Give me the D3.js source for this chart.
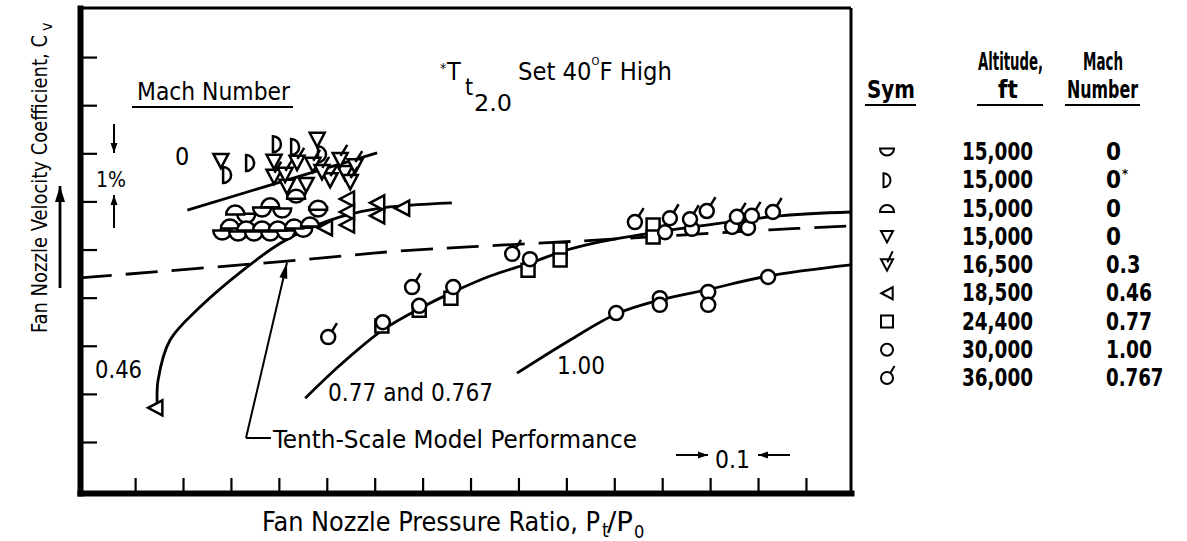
<!DOCTYPE html>
<html>
<head>
<meta charset="utf-8">
<script src="https://cdn.jsdelivr.net/npm/d3@7"></script>
<style>
  body { margin: 0; background: #fff; }
  text { font-family: "Liberation Sans Narrow", "DejaVu Sans Condensed", "Roboto Condensed", sans-serif; fill: #000; }
  .legend text { font-weight: bold; }
</style>
</head>
<body>
<svg id="chart" width="1187" height="541"></svg>
<script>
// ---- axis ticks (pressure ratio every 0.1, velocity coefficient every 1%) ----
const xTicks = [1.2, 1.3, 1.4, 1.5, 1.6, 1.7, 1.8, 1.9, 2.0, 2.1, 2.2, 2.3, 2.4, 2.5, 2.6];
const yTicks = [0.90, 0.91, 0.92, 0.93, 0.94, 0.95, 0.96, 0.97, 0.98];

// ---- legend table ----
const legendSymbols   = ["halfDown", "halfRight", "halfUp", "triDown", "triDownFlag", "triLeft", "square", "circle", "circleFlag"];
const legendAltitudes = ["15,000", "15,000", "15,000", "15,000", "16,500", "18,500", "24,400", "30,000", "36,000"];
const legendMach      = ["0", "0*", "0", "0", "0.3", "0.46", "0.77", "1.00", "0.767"];

// ---- measured points [pressure ratio, Cv] ----
const alt15kHalfDown = [[1.382,0.9430],[1.415,0.9428],[1.448,0.9428],[1.482,0.9428],[1.515,0.9430],[1.551,0.9436],
                        [1.465,0.9478],[1.507,0.9476],[1.536,0.9507],[1.582,0.9478],[1.432,0.9465]];
const alt15kHalfRight = [[1.392,0.9555],[1.440,0.9580],[1.496,0.9619],[1.534,0.9613],[1.590,0.9598]];
const alt15kHalfUp   = [[1.409,0.9482],[1.398,0.9453],[1.432,0.9449],[1.465,0.9449],[1.498,0.9449],[1.532,0.9453],
                        [1.565,0.9457],[1.536,0.9515],[1.482,0.9497],[1.582,0.9492]];
const alt15kTriDown  = [[1.379,0.9584],[1.580,0.9628],[1.490,0.9582],[1.517,0.9530],[1.557,0.9534],[1.638,0.9559]];
const mach03         = [[1.490,0.9551],[1.538,0.9580],[1.571,0.9576],[1.628,0.9586],[1.659,0.9573],[1.607,0.9544],
                        [1.513,0.9555],[1.590,0.9561],[1.649,0.9540]];
const mach046        = [[1.242,0.9071],[1.642,0.9505],[1.642,0.9478],[1.642,0.9451],[1.596,0.9445],[1.705,0.9497],
                        [1.705,0.9470],[1.757,0.9486]];
const mach077        = [[1.715,0.9241],[1.793,0.9274],[1.859,0.9299],[2.020,0.9357],[2.087,0.9401],[2.087,0.9378],
                        [2.281,0.9451],[2.281,0.9426]];
const mach100        = [[2.204,0.9268],[2.295,0.9299],[2.295,0.9285],[2.396,0.9312],[2.396,0.9285],[2.521,0.9343],
                        [1.717,0.9249],[1.793,0.9283],[1.864,0.9322],[2.024,0.9380],[2.306,0.9436],[2.362,0.9443],
                        [2.446,0.9447],[2.479,0.9445]];
const mach0767       = [[1.603,0.9218],[1.778,0.9322],[1.987,0.9391],[2.243,0.9457],[2.316,0.9465],[2.358,0.9463],
                        [2.393,0.9480],[2.456,0.9468],[2.487,0.9470],[2.531,0.9478]];

// ---- faired curves ----
const curveMach0   = [[1.309,0.9482],[1.705,0.9601]];
const curveMach046 = [[1.246,0.9081],[1.248,0.9129],[1.273,0.9212],[1.336,0.9281],[1.434,0.9364],[1.503,0.9413],
                      [1.565,0.9445],[1.628,0.9468],[1.711,0.9486],[1.861,0.9497]];
const curveMach077 = [[1.555,0.9091],[1.628,0.9160],[1.717,0.9233],[1.795,0.9278],[1.864,0.9312],[1.941,0.9345],
                      [2.024,0.9372],[2.101,0.9399],[2.170,0.9416],[2.275,0.9434],[2.379,0.9449],[2.546,0.9470],[2.694,0.9478]];
const curveMach100 = [[1.997,0.9143],[2.108,0.9212],[2.204,0.9266],[2.295,0.9295],[2.400,0.9318],[2.521,0.9345],[2.694,0.9368]];
const modelPerformance = [[1.085,0.9341],[1.517,0.9376],[1.753,0.9397],[1.962,0.9409],[2.170,0.9420],[2.525,0.9441],[2.694,0.9449]];

// ---- layout ----
const plot = { left: 80, right: 851, top: 8, bottom: 493 };
const x = d3.scaleLinear().domain([1.085, 2.694]).range([plot.left, plot.right]);
const y = d3.scaleLinear().domain([0.8894, 0.9902]).range([plot.bottom, plot.top]);

const svg = d3.select("#chart");

// symbol outlines centred on (0,0); s = nominal size
function shapePath(kind, s) {
  const r = s / 2, h = s * 0.95;
  switch (kind) {
    case "halfDown":  return `M${-r},${-r/2}A${r},${r} 0 0,0 ${r},${-r/2}Z`;
    case "halfUp":    return `M${-r},${r/2}A${r},${r} 0 0,1 ${r},${r/2}Z`;
    case "halfRight": return `M${-r/2},${-r}A${r},${r} 0 0,1 ${-r/2},${r}Z`;
    case "triDown":
    case "triDownFlag": {
      let p = `M${-r},${-h/2}L${r},${-h/2}L0,${h/2}Z`;
      if (kind === "triDownFlag") p += `M${r*0.05},${-h/2 + 3}L${r*0.95},${-h/2 - 8}`;
      return p;
    }
    case "triLeft":   return `M${h/2},${-r}L${h/2},${r}L${-h/2},0Z`;
    case "square":    return `M${-r},${-r}h${s}v${s}h${-s}Z`;
    case "circle":
    case "circleFlag": {
      let p = `M${r},0A${r},${r} 0 1,1 ${-r},0A${r},${r} 0 1,1 ${r},0Z`;
      if (kind === "circleFlag") p += `M${r*0.55},${-r*0.85}L${r*1.25},${-r*2.0}`;
      return p;
    }
  }
}

// ---- frame and axes ----
const xAxis = d3.axisBottom(x).tickValues(xTicks).tickSize(-15).tickSizeOuter(0).tickFormat("");
const yAxis = d3.axisLeft(y).tickValues(yTicks).tickSize(-17).tickSizeOuter(0).tickFormat("");

svg.append("line").attr("x1", plot.left).attr("x2", plot.right).attr("y1", plot.top).attr("y2", plot.top)
  .attr("stroke", "#000").attr("stroke-width", 3);
svg.append("line").attr("x1", plot.right).attr("x2", plot.right).attr("y1", plot.top).attr("y2", plot.bottom)
  .attr("stroke", "#000").attr("stroke-width", 3);

const gx = svg.append("g").attr("transform", `translate(0,${plot.bottom})`).call(xAxis);
const gy = svg.append("g").attr("transform", `translate(${plot.left},0)`).call(yAxis);
[gx, gy].forEach(g => {
  g.select(".domain").attr("stroke", "#000").attr("stroke-width", 6).attr("stroke-linecap", "square");
  g.selectAll(".tick line").attr("stroke", "#000").attr("stroke-width", 2.2);
});

// ---- curves ----
const line = d3.line().x(d => x(d[0])).y(d => y(d[1])).curve(d3.curveCatmullRom.alpha(0.5));
const curveG = svg.append("g").attr("fill", "none").attr("stroke", "#000").attr("stroke-width", 2.8);
[curveMach0, curveMach046, curveMach077, curveMach100].forEach(c => curveG.append("path").attr("d", line(c)));
curveG.append("path").attr("d", line(modelPerformance)).attr("stroke-dasharray", "32 14");

// ---- data symbols ----
const series = [
  [alt15kHalfDown, "halfDown", 18],
  [alt15kHalfUp, "halfUp", 18],
  [alt15kHalfRight, "halfRight", 16],
  [alt15kTriDown, "triDown", 15],
  [mach03, "triDownFlag", 15],
  [mach046, "triLeft", 15],
  [mach077, "square", 13],
  [mach100, "circle", 14],
  [mach0767, "circleFlag", 14]
];
const symG = svg.append("g").attr("fill", "#fff").attr("stroke", "#000").attr("stroke-width", 2.5);
series.forEach(([pts, kind, size]) => {
  symG.selectAll(null).data(pts).join("path")
    .attr("transform", d => `translate(${x(d[0])},${y(d[1])})`)
    .attr("d", shapePath(kind, size));
});

// ---- text helpers ----
function label(g, str, px, py, opts = {}) {
  const t = g.append("text").attr("x", px).attr("y", py)
    .attr("font-size", opts.size || 24)
    .attr("text-anchor", opts.anchor || "start")
    .text(str);
  if (opts.len) t.attr("textLength", opts.len).attr("lengthAdjust", "spacingAndGlyphs");
  return t;
}
function arrow(g, x1, y1, x2, y2, head = 10, wid = 4, sw = 2.2) {
  g.append("line").attr("x1", x1).attr("y1", y1).attr("x2", x2).attr("y2", y2)
    .attr("stroke", "#000").attr("stroke-width", sw);
  const a = Math.atan2(y2 - y1, x2 - x1);
  const bx = x2 - head * Math.cos(a), by = y2 - head * Math.sin(a);
  const nx = -Math.sin(a) * wid, ny = Math.cos(a) * wid;
  g.append("path").attr("d", `M${x2},${y2}L${bx + nx},${by + ny}L${bx - nx},${by - ny}Z`).attr("fill", "#000");
}
const ann = svg.append("g");

// axis titles
label(ann, "Fan Nozzle Velocity Coefficient, C", 0, 0, { size: 21, len: 298 })
  .attr("transform", "translate(47,333) rotate(-90)");
label(ann, "v", 0, 0, { size: 16 }).attr("transform", "translate(52,31) rotate(-90)");
arrow(ann, 60, 288, 60, 186, 16, 5, 2.8);

label(ann, "Fan Nozzle Pressure Ratio, P", 262, 531, { size: 26, len: 338 });
label(ann, "t", 602, 537, { size: 19 });
label(ann, "/P", 607, 531, { size: 26, len: 26 });
label(ann, "0", 634, 538, { size: 18 });

// in-plot annotations
label(ann, "Mach Number", 137, 100, { size: 25, len: 153 });
ann.append("line").attr("x1", 132).attr("x2", 293).attr("y1", 107).attr("y2", 107).attr("stroke", "#000").attr("stroke-width", 2);
label(ann, "0", 175, 165, { size: 25 });
arrow(ann, 114, 124, 114, 153, 10, 3.5, 2);
label(ann, "1%", 96, 187, { size: 22, len: 30 });
arrow(ann, 114, 228, 114, 195, 10, 3.5, 2);

label(ann, "*", 440, 73, { size: 14 });
label(ann, "T", 447, 80, { size: 25 });
label(ann, "t", 465, 95, { size: 23 });
label(ann, "2.0", 474, 111, { size: 23, len: 38 });
// "Set 40°F High" as one line, with the degree mark raised
const setT = ann.append("text").attr("x", 518).attr("y", 80).attr("font-size", 25)
  .attr("textLength", 154).attr("lengthAdjust", "spacingAndGlyphs");
setT.append("tspan").text("Set 40");
setT.append("tspan").attr("dy", -15).attr("font-size", 11).text("O");
setT.append("tspan").attr("dy", 15).text("F High");

label(ann, "0.46", 95, 378, { size: 25, len: 47 });
label(ann, "0.77 and 0.767", 328, 401, { size: 25, len: 165 });
label(ann, "1.00", 557, 374, { size: 25, len: 48 });

label(ann, "Tenth-Scale Model Performance", 273, 448, { size: 25, len: 364 });
ann.append("line").attr("x1", 246).attr("x2", 271).attr("y1", 438).attr("y2", 438).attr("stroke", "#000").attr("stroke-width", 2);
arrow(ann, 246, 438, x(modelPerformance[1][0]), y(0.9375) + 1, 16, 4, 2);

arrow(ann, 676, 455, 708, 455, 10, 3.5, 2);
label(ann, "0.1", 715, 468, { size: 25, len: 35 });
arrow(ann, 790, 455, 758, 455, 10, 3.5, 2);

// ---- legend table ----
const lg = svg.append("g").attr("class", "legend");
label(lg, "Sym", 867, 98, { len: 48 });
label(lg, "Altitude,", 978, 70, { len: 65 });
label(lg, "ft", 998, 98);
label(lg, "Mach", 1083, 70, { len: 40 });
label(lg, "Number", 1067, 98, { len: 71 });
[[865, 916], [977, 1043], [1065, 1140]].forEach(([a, b]) =>
  lg.append("line").attr("x1", a).attr("x2", b).attr("y1", 105).attr("y2", 105).attr("stroke", "#000").attr("stroke-width", 2.2));

const rowY = i => 160 + i * 28.25;
legendSymbols.forEach((kind, i) => {
  lg.append("path").attr("transform", `translate(887,${rowY(i) - 8})`)
    .attr("d", shapePath(kind, kind.startsWith("half") ? 14 : 12))
    .attr("fill", "#fff").attr("stroke", "#000").attr("stroke-width", 2);
  label(lg, legendAltitudes[i], 962, rowY(i), { len: 71 });
  const m = legendMach[i];
  if (m.endsWith("*")) {
    label(lg, m.slice(0, -1), 1106, rowY(i));
    label(lg, "*", 1122, rowY(i) - 10, { size: 13 });
  } else {
    label(lg, m, 1106, rowY(i), m.length > 1 ? { len: m.length * 11.5 } : {});
  }
});
</script>
</body>
</html>
